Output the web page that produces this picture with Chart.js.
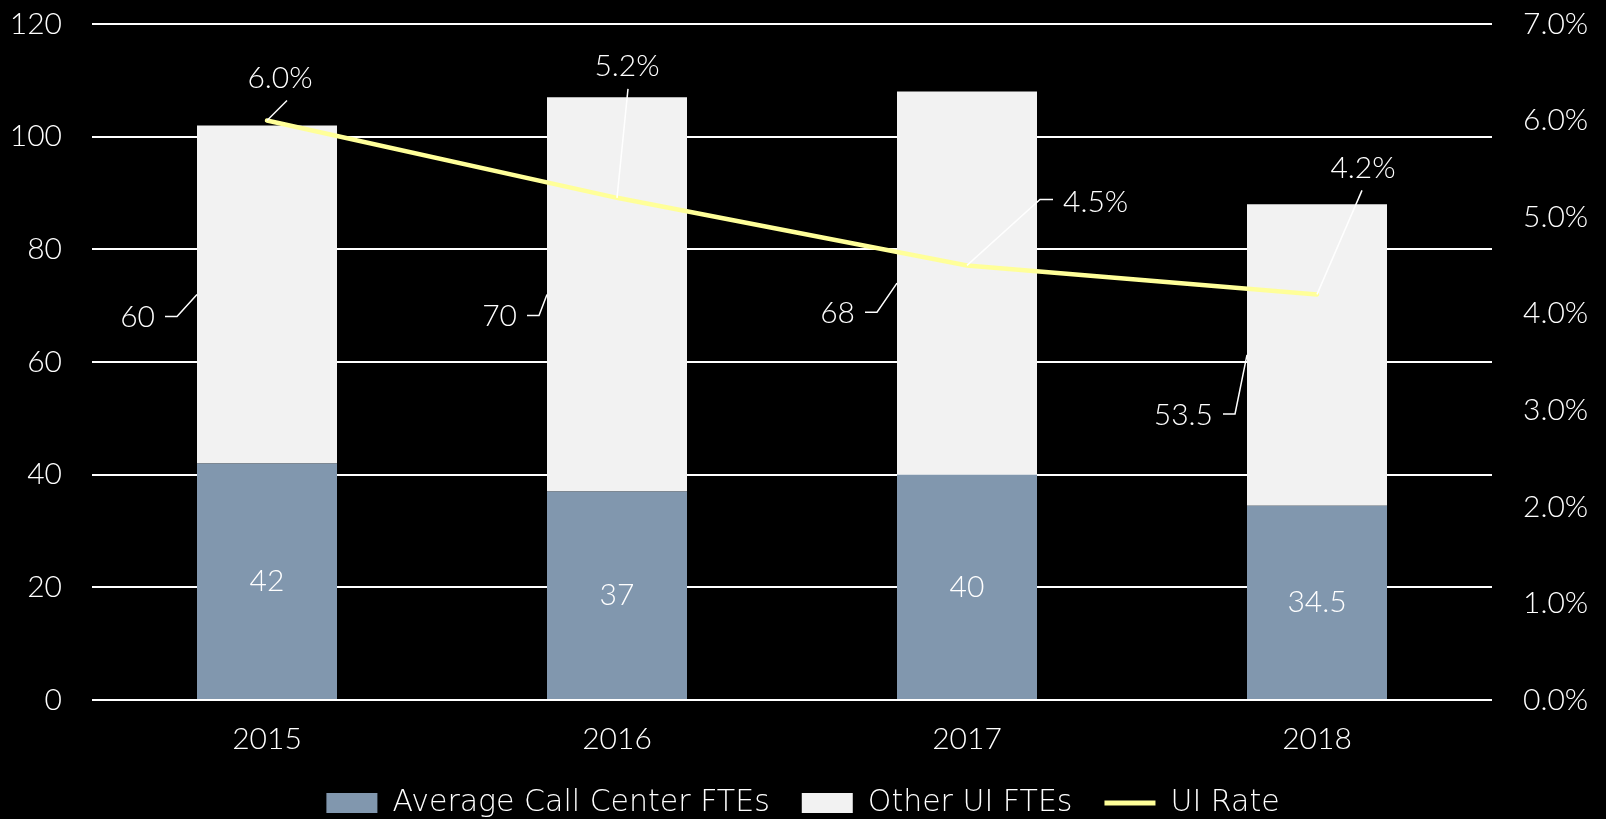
<!DOCTYPE html>
<html>
<head>
<meta charset="utf-8">
<title>Call Center FTEs and UI Rate</title>
<script src="https://cdn.jsdelivr.net/npm/chart.js@4/dist/chart.umd.min.js"></script>
<style>
  html, body { margin: 0; padding: 0; background: #000; overflow: hidden; }
  #chart-box { width: 1606px; height: 819px; }
</style>
</head>
<body>
<div id="chart-box"><canvas id="my-chart"></canvas></div>
<script>
'use strict';
// ***** DATA *****
let years = ['2015', '2016', '2017', '2018'];
let callCenterFtes = [42, 37, 40, 34.5];
let otherUiFtes = [60, 70, 68, 53.5];
let uiRate = [6.0, 5.2, 4.5, 4.2]; // percent
let leftTicks = [0, 20, 40, 60, 80, 100, 120];
let rightTicks = [0, 1, 2, 3, 4, 5, 6, 7]; // percent

// ***** STYLE *****
let fontFamily = 'Lato, "Noto Sans", sans-serif';
let legendFamily = '"DejaVu Sans", Lato, sans-serif';
let fontSize = 30;
let blueColor = '#8197AE';
let greyColor = '#F2F2F2';
let yellowColor = '#FFFF99';

// label placement for the hand-moved labels (offsets from the anchor, in px)
// other UI FTEs: anchor = left edge of the bar at middle of its segment
let otherLabelPlacement = [
  { dx: -42, dy: 23 },
  { dx: -30, dy: 22 },
  { dx: -42, dy: 30 },
  { dx: -34, dy: 60 }
];
// UI rate: anchor = line point, leader = list of points
let rateLabelPlacement = [
  { dx: 13, dy: -42, align: 'center', leader: [[20, -20]] },
  { dx: 10, dy: -132, align: 'center', leader: [[11, -109]] },
  { dx: 96, dy: -63, align: 'left', leader: [[73, -66], [86, -66]] },
  { dx: 46, dy: -126, align: 'center', leader: [[45, -104]] }
];

// ***** LABEL PLUGIN *****
let labelPlugin = {
  id: 'valueLabels',
  afterDatasetsDraw(chart) {
    let ctx = chart.ctx;
    ctx.save();
    ctx.font = `300 ${fontSize}px ${fontFamily}`;
    ctx.fillStyle = '#FFFFFF';
    ctx.strokeStyle = '#FFFFFF';
    ctx.lineWidth = 1.5;
    ctx.textBaseline = 'middle';

    // Average call center FTEs - centered in the bar
    chart.getDatasetMeta(0).data.forEach((bar, i) => {
      ctx.textAlign = 'center';
      ctx.fillText(String(callCenterFtes[i]), bar.x, (bar.y + bar.base) / 2);
    });

    // Other UI FTEs - left of the bar with an elbow leader
    chart.getDatasetMeta(1).data.forEach((bar, i) => {
      let ax = bar.x - bar.width / 2;
      let ay = (bar.y + bar.base) / 2;
      let p = otherLabelPlacement[i];
      let tx = ax + p.dx;
      let ty = ay + p.dy;
      ctx.beginPath();
      ctx.moveTo(ax, ay);
      ctx.lineTo(tx + 22, ty - 1);
      ctx.lineTo(tx + 10, ty - 1);
      ctx.stroke();
      ctx.textAlign = 'right';
      ctx.fillText(String(otherUiFtes[i]), tx, ty);
    });

    // UI rate - above the line with leader
    chart.getDatasetMeta(2).data.forEach((pt, i) => {
      let p = rateLabelPlacement[i];
      ctx.beginPath();
      ctx.moveTo(pt.x, pt.y);
      p.leader.forEach(l => ctx.lineTo(pt.x + l[0], pt.y + l[1]));
      ctx.stroke();
      ctx.textAlign = p.align;
      ctx.fillText(uiRate[i].toFixed(1) + '%', pt.x + p.dx, pt.y + p.dy);
    });
    ctx.restore();
  }
};

// ***** CHART *****
let ctx = document.getElementById('my-chart');

let chartDatasets = [
  {
    type: 'bar',
    label: 'Average Call Center FTEs',
    data: callCenterFtes,
    backgroundColor: blueColor,
    stack: 'fte',
    yAxisID: 'y',
    barPercentage: 0.4,
    categoryPercentage: 1,
    order: 2
  },
  {
    type: 'bar',
    label: 'Other UI FTEs',
    data: otherUiFtes,
    backgroundColor: greyColor,
    stack: 'fte',
    yAxisID: 'y',
    barPercentage: 0.4,
    categoryPercentage: 1,
    order: 2
  },
  {
    type: 'line',
    label: 'UI Rate',
    data: uiRate,
    borderColor: yellowColor,
    backgroundColor: yellowColor,
    borderWidth: 4.5,
    borderCapStyle: 'round',
    pointRadius: 0,
    tension: 0,
    yAxisID: 'y2',
    order: 1
  }
];

let tickFont = { family: fontFamily, size: fontSize, weight: 300 };

let chartOptions = {
  responsive: true,
  maintainAspectRatio: false,
  animation: false,
  layout: { padding: { top: 24, bottom: -9 } },
  plugins: {
    legend: {
      position: 'bottom',
      labels: {
        color: '#FFFFFF',
        font: { family: legendFamily, size: fontSize, weight: 200, lineHeight: 0.7 },
        usePointStyle: true,
        pointStyleWidth: 51,
        boxHeight: 20,
        padding: 32,
        generateLabels(chart) {
          return chart.data.datasets.map((ds, i) => ({
            text: ds.label,
            fillStyle: ds.type === 'line' ? 'transparent' : ds.backgroundColor,
            strokeStyle: ds.type === 'line' ? yellowColor : 'transparent',
            lineWidth: ds.type === 'line' ? 5 : 0,
            pointStyle: ds.type === 'line' ? 'line' : 'rect',
            fontColor: '#FFFFFF',
            hidden: false,
            datasetIndex: i
          }));
        }
      }
    },
    tooltip: { enabled: false }
  },
  scales: {
    x: {
      stacked: true,
      grid: { display: false, drawTicks: false },
      border: { display: false },
      afterFit(scale) { scale.height = 56; },
      ticks: { color: '#FFFFFF', font: tickFont, padding: 21 }
    },
    y: {
      stacked: true,
      position: 'left',
      min: leftTicks[0],
      max: leftTicks[leftTicks.length - 1],
      afterBuildTicks(scale) { scale.ticks = leftTicks.map(v => ({ value: v })); },
      afterFit(scale) { scale.width = 92; },
      grid: { color: '#FFFFFF', lineWidth: 2, drawTicks: true, tickLength: 30, tickColor: 'transparent' },
      border: { display: false },
      ticks: { color: '#FFFFFF', font: tickFont, padding: 0 }
    },
    y2: {
      position: 'right',
      min: rightTicks[0],
      max: rightTicks[rightTicks.length - 1],
      afterBuildTicks(scale) { scale.ticks = rightTicks.map(v => ({ value: v })); },
      afterFit(scale) { scale.width = 114; },
      grid: { display: false, drawTicks: true, tickLength: 31 },
      border: { display: false },
      ticks: {
        color: '#FFFFFF',
        font: tickFont,
        padding: 0,
        callback: v => v.toFixed(1) + '%'
      }
    }
  }
};

new Chart(ctx, {
  data: { labels: years, datasets: chartDatasets },
  options: chartOptions,
  plugins: [labelPlugin]
});
</script>
</body>
</html>
